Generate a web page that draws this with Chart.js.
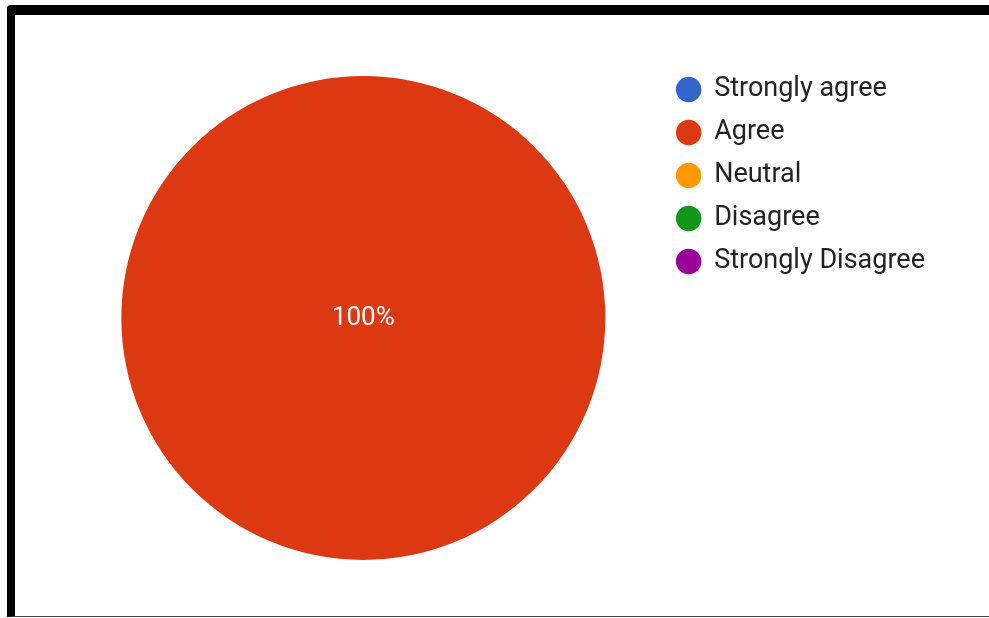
<!DOCTYPE html>
<html>
<head>
<meta charset="utf-8">
<script src="https://cdn.jsdelivr.net/npm/chart.js@4"></script>
<style>
  html, body { margin: 0; padding: 0; background: #fff; }
  #wrap { position: relative; width: 989px; height: 618px; overflow: hidden; }
  #frame {
    position: absolute; left: 7px; top: 5px; right: -20px; bottom: 1px;
    border-top: 10px solid #000; border-left: 8px solid #000;
    border-bottom: 1px solid #444;
    border-top-left-radius: 4px;
    box-sizing: border-box;
  }
  canvas { position: absolute; left: 0; top: 0; }
</style>
</head>
<body>
<div id="wrap">
  <div id="frame"></div>
  <canvas id="pieChart" width="989" height="618"></canvas>
</div>
<script>
document.addEventListener("DOMContentLoaded", function () {
  const labels = ["Strongly agree", "Agree", "Neutral", "Disagree", "Strongly Disagree"];
  const values = [0, 100, 0, 0, 0];
  const colors = ["#3366cc", "#dc3912", "#ff9900", "#109618", "#990099"];

  // percentage labels on the slices (Google style)
  const sliceLabels = {
    id: "sliceLabels",
    afterDatasetsDraw(chart) {
      const ctx = chart.ctx;
      const meta = chart.getDatasetMeta(0);
      const total = values.reduce((a, b) => a + b, 0);
      ctx.save();
      ctx.fillStyle = "#fff";
      ctx.font = "26px Roboto, sans-serif";
      ctx.textAlign = "center";
      ctx.textBaseline = "middle";
      meta.data.forEach((arc, i) => {
        if (!values[i]) return;
        const pct = Math.round((values[i] / total) * 100) + "%";
        let pos;
        if (values[i] === total) {
          pos = { x: arc.x, y: arc.y };
        } else {
          pos = arc.tooltipPosition();
        }
        ctx.fillText(pct, pos.x, pos.y);
      });
      ctx.restore();
    },
  };

  new Chart(document.getElementById("pieChart"), {
    type: "pie",
    data: {
      labels: labels,
      datasets: [
        {
          data: values,
          backgroundColor: colors,
          borderWidth: 0,
          radius: 242,
        },
      ],
    },
    options: {
      responsive: false,
      animation: false,
      layout: {
        padding: { left: 66, top: 60, bottom: 42, right: 54 },
      },
      plugins: {
        legend: {
          position: "right",
          align: "start",
          labels: {
            usePointStyle: true,
            pointStyle: "circle",
            boxWidth: 24,
            boxHeight: 18,
            padding: 16,
            color: "#222",
            font: { family: "Roboto, sans-serif", size: 27 },
          },
        },
        tooltip: { enabled: false },
      },
    },
    plugins: [sliceLabels],
  });
});
</script>
</body>
</html>
